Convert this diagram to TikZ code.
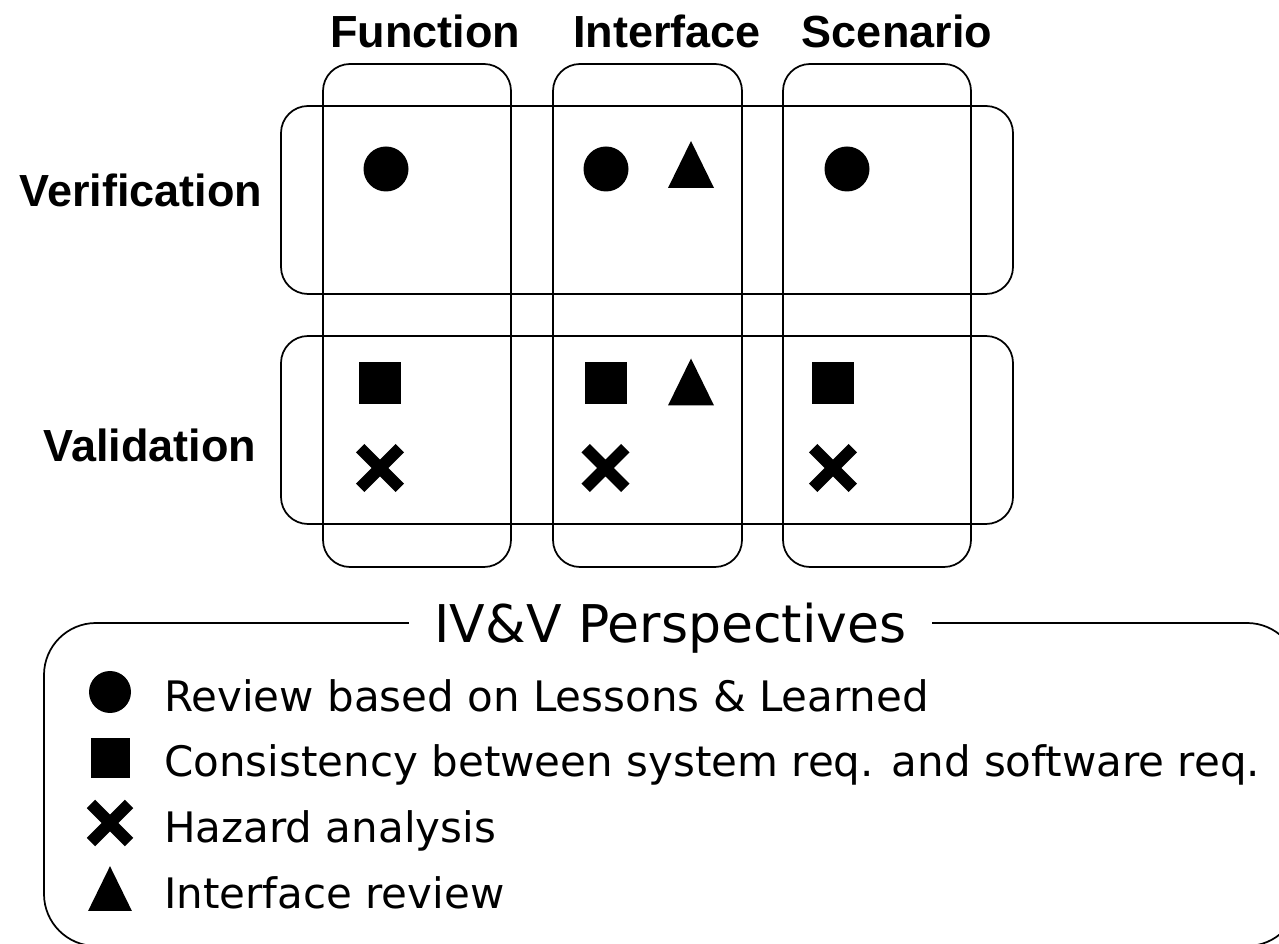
\documentclass[tikz,border=0pt]{standalone}
\usepackage{fontspec}
\setmainfont{DejaVu Sans}
\newfontfamily\headfont{Liberation Sans}
\begin{document}
\begin{tikzpicture}[x=0.75pt,y=-0.75pt,
  frame/.style={draw=black,line width=1.3pt,rounded corners=20.25pt},
  legframe/.style={draw=black,line width=1.3pt,rounded corners=39pt},
  head/.style={font=\headfont\bfseries\fontsize{33.75}{40}\selectfont,inner sep=0pt,anchor=base},
  legtext/.style={font=\fontsize{31.5}{38}\selectfont,anchor=base west,inner sep=0pt},
  legtitle/.style={font=\fontsize{39}{46}\selectfont,anchor=base,fill=white,inner xsep=19pt,inner ysep=2pt},
  dot/.style={circle,fill=black,inner sep=0pt,minimum size=#1},
  dot/.default=33.75pt,
  sq/.style={rectangle,fill=black,inner sep=0pt,minimum size=#1},
  sq/.default=31.5pt,
  tri/.pic={\fill[black] (-23,23.5) -- (23,23.5) -- (0,-23.5) -- cycle;},
  cross/.pic={\draw[black,line width=9pt] (-19.8,-19.8) -- (19.8,19.8) (-19.8,19.8) -- (19.8,-19.8);}
]
\useasboundingbox (0,0) rectangle (1279,944);
\clip (0,0) rectangle (1279,944);

% perspective columns
\draw[frame] (323,64) rectangle (511,567);
\draw[frame] (553,64) rectangle (742,567);
\draw[frame] (783,64) rectangle (971,567);
% activity rows
\draw[frame] (281,106) rectangle (1013,294);
\draw[frame] (281,336) rectangle (1013,524);

% column and row headings
\node[head] (hFunc) at (425,48) {Function};
\node[head] (hIntf) at (667,48) {Interface};
\node[head] (hScen) at (897,48) {Scenario};
\node[head] (hVer) at (141,207) {Verification};
\node[head] (hVal) at (150,462) {Validation};

% verification marks
\node[dot] (vF) at (386,169) {};
\node[dot] (vI) at (606,169) {};
\pic (vIt) at (691,164.5) {tri};
\node[dot] (vS) at (847,169) {};

% validation marks
\node[sq] (aF) at (380,383) {};
\pic (aFx) at (380,468) {cross};
\node[sq] (aI) at (606,383) {};
\pic (aIt) at (691,382) {tri};
\pic (aIx) at (605.5,468) {cross};
\node[sq] (aS) at (833,383) {};
\pic (aSx) at (833,468) {cross};

% legend
\draw[legframe] (44,623) rectangle (1299,946);
\node[legtitle] (title) at (670.5,643) {IV\&V Perspectives};

\node[dot=31.5pt] (kDot) at (110,692) {};
\node[legtext] (tDot) at (164,712) {Review based on Lessons \& Learned};
\node[sq=29.25pt] (kSq) at (110,758) {};
\node[legtext] (tSq) at (164,777) {Consistency between system req. and software req.};
\pic[scale=0.96] (kX) at (110,823) {cross};
\node[legtext] (tX) at (164,842) {Hazard analysis};
\pic[scale=0.95] (kTri) at (110,888.5) {tri};
\node[legtext] (tTri) at (164,908) {Interface review};
\end{tikzpicture}
\end{document}
